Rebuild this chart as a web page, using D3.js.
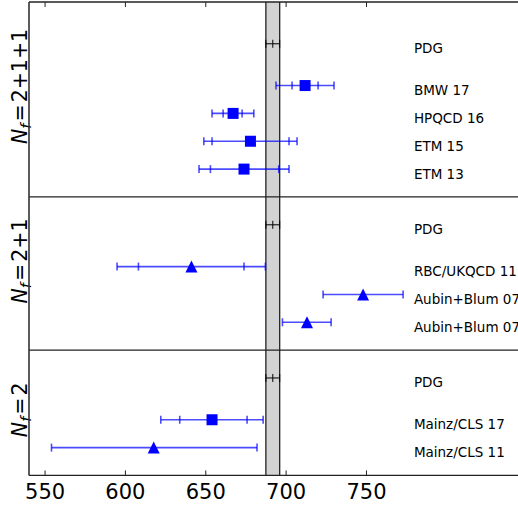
<!DOCTYPE html>
<html>
<head>
<meta charset="utf-8">
<script src="https://cdn.jsdelivr.net/npm/d3@7"></script>
<style>
  body { margin: 0; background: #fff; }
  text { font-family: "DejaVu Sans", sans-serif; }
</style>
</head>
<body>
<script>
// data
var nf = ["2+1+1", "2+1", "2"];
var names = [
    ["BMW 17", "HPQCD 16", "ETM 15", "ETM 13"],
    ["RBC/UKQCD 11", "Aubin+Blum 07", "Aubin+Blum 07"],
    ["Mainz/CLS 17", "Mainz/CLS 11"]
];
var central = [[711.8, 667.0, 677.8, 673.8], [641.1, 747.9, 713.0], [653.9, 617.6]];
var statLo = [[703.7, 660.8, 653.9, 652.9], [608.1, null, null], [633.8, null]];
var statHi = [[719.9, 672.6, 701.8, 695.4], [673.8, null, null], [675.7, null]];
var totLo = [[693.7, 653.9, 648.8, 645.8], [594.8, 723.0, 697.7], [622.0, 554.0]];
var totHi = [[729.8, 679.9, 706.8, 701.8], [687.1, 772.8, 728.0], [685.7, 681.9]];
var shapes = [["s", "s", "s", "s"], ["t", "t", "t"], ["s", "t"]];
var pdg = 691.7, pdgLo = 687.4, pdgHi = 696.0;
var xTicks = [550, 600, 650, 700, 750];
var yMax = [7, 5.5, 4.5];

(function () {
    var width = 518, height = 507,
        left = 29, topY = 2, unit = 27.85,
        labelX = 779.5;

    var svg = d3.select("body").append("svg")
        .attr("width", width).attr("height", height);

    var x = d3.scaleLinear().domain([540, 860]).range([left, left + 320 * 1.607]);

    var bottom = topY + d3.sum(yMax) * unit;

    // grey PDG band
    svg.append("rect")
        .attr("x", x(pdgLo)).attr("y", topY)
        .attr("width", x(pdgHi) - x(pdgLo)).attr("height", bottom - topY)
        .attr("fill", "#d3d3d3");
    [pdgLo, pdgHi].forEach(function (v) {
        svg.append("line")
            .attr("x1", x(v)).attr("x2", x(v))
            .attr("y1", topY).attr("y2", bottom)
            .attr("stroke", "#222").attr("stroke-width", 1.3);
    });

    var y0 = topY;
    var labelOff = [13, 12.5, 3];
    nf.forEach(function (lab, p) {
        var h = yMax[p] * unit;
        var y = d3.scaleLinear().domain([0, yMax[p]]).range([y0 + h, y0]);
        var g = svg.append("g");
        var n = names[p].length;

        // PDG point
        var py = y(n + 1.5);
        g.append("line").attr("x1", x(pdgLo)).attr("x2", x(pdgHi))
            .attr("y1", py).attr("y2", py).attr("stroke", "#000").attr("stroke-width", 1);
        [pdgLo, pdg, pdgHi].forEach(function (v) {
            g.append("line").attr("x1", x(v)).attr("x2", x(v))
                .attr("y1", py - 4).attr("y2", py + 4)
                .attr("stroke", "#000").attr("stroke-width", 1);
        });
        g.append("text").attr("x", x(labelX)).attr("y", py + 9.5)
            .attr("font-size", 13.5).text("PDG");

        names[p].forEach(function (nm, i) {
            var yy = y(n - i);
            var blue = g.append("g").attr("stroke", "#0000ff")
                .attr("stroke-width", 1.6).attr("stroke-opacity", 0.7);
            blue.append("line").attr("x1", x(totLo[p][i])).attr("x2", x(totHi[p][i]))
                .attr("y1", yy).attr("y2", yy);
            var caps = [totLo[p][i], totHi[p][i]];
            if (statLo[p][i] != null) caps.push(statLo[p][i], statHi[p][i]);
            caps.forEach(function (v) {
                blue.append("line").attr("x1", x(v)).attr("x2", x(v))
                    .attr("y1", yy - 4).attr("y2", yy + 4);
            });
            var cx = x(central[p][i]);
            if (shapes[p][i] == "s") {
                g.append("rect").attr("x", cx - 5.5).attr("y", yy - 5.5)
                    .attr("width", 11).attr("height", 11).attr("fill", "#0000ff");
            } else {
                g.append("path")
                    .attr("d", "M" + cx + "," + (yy - 6) + "L" + (cx + 6) + "," + (yy + 6) +
                        "L" + (cx - 6) + "," + (yy + 6) + "Z")
                    .attr("fill", "#0000ff");
            }
            g.append("text").attr("x", x(labelX)).attr("y", yy + 9.5)
                .attr("font-size", 13.5).text(nm);
        });

        // y label
        var t = svg.append("text")
            .attr("transform", "translate(27," + (y0 + h / 2 - labelOff[p]) + ") rotate(-90)")
            .attr("text-anchor", "middle").attr("font-size", 20.5);
        t.append("tspan").attr("font-style", "italic").text("N");
        t.append("tspan").attr("font-style", "italic").attr("font-size", 14.5).attr("dy", 4).text("f");
        t.append("tspan").attr("dy", -4).text("\u200a=\u200a" + lab);

        // panel frame
        svg.append("line").attr("x1", left).attr("x2", width)
            .attr("y1", y0).attr("y2", y0).attr("stroke", "#222").attr("stroke-width", 1.3);
        y0 += h;
    });

    svg.append("line").attr("x1", left).attr("x2", width)
        .attr("y1", bottom).attr("y2", bottom).attr("stroke", "#222").attr("stroke-width", 1.3);
    svg.append("line").attr("x1", left).attr("x2", left)
        .attr("y1", topY).attr("y2", bottom).attr("stroke", "#333").attr("stroke-width", 1.6);

    // ticks inside, top and bottom
    xTicks.forEach(function (v) {
        svg.append("line").attr("x1", x(v)).attr("x2", x(v))
            .attr("y1", topY).attr("y2", topY + 5).attr("stroke", "#222");
        svg.append("line").attr("x1", x(v)).attr("x2", x(v))
            .attr("y1", bottom).attr("y2", bottom - 5).attr("stroke", "#222");
        svg.append("text").attr("x", x(v)).attr("y", 499)
            .attr("text-anchor", "middle").attr("font-size", 21).text(v);
    });
})();
</script>
</body>
</html>
